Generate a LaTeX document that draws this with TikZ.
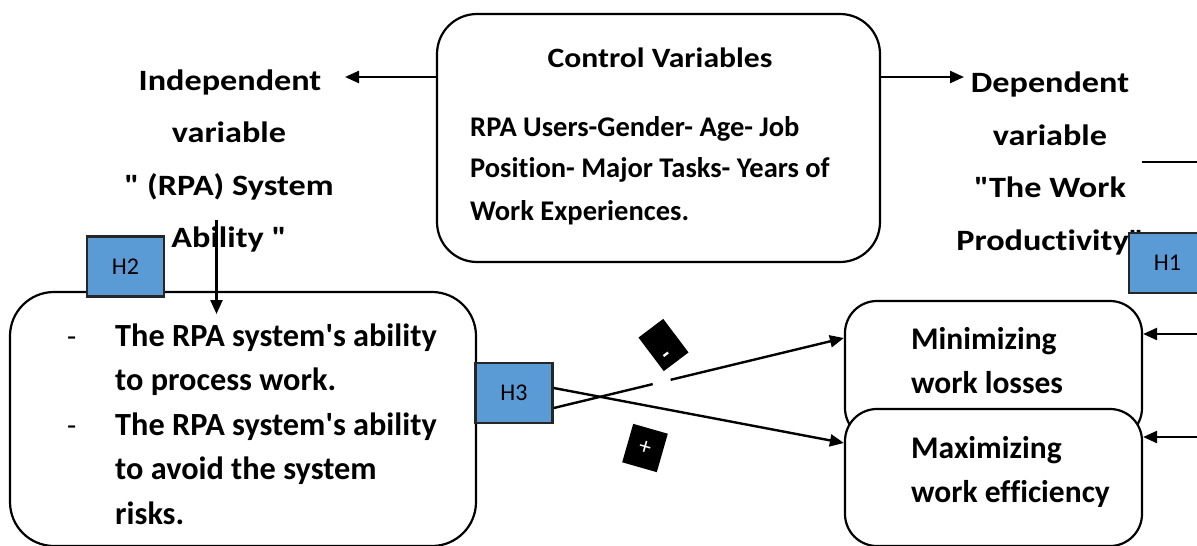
\documentclass[tikz,border=0pt]{standalone}
\usepackage{graphicx}
\usepackage{fontspec}
\setmainfont{Carlito}[Ligatures={TeXOff,CommonOff}]
\usetikzlibrary{arrows.meta,calc}
\definecolor{hblue}{HTML}{5B9BD5}
\newcommand{\strtxt}[2]{\scalebox{#1}[1]{#2}}
\tikzset{
  titletxt/.style={font=\bfseries\fontsize{29.5}{30}\selectfont, anchor=base, inner sep=0pt},
  bodytxt/.style={font=\bfseries\fontsize{32.3}{33}\selectfont, anchor=base west, inner sep=0pt},
  dashtxt/.style={font=\fontsize{30}{30}\selectfont, anchor=base west, inner sep=0pt},
  ctltxt/.style={font=\bfseries\fontsize{28.5}{29}\selectfont, anchor=base west, inner sep=0pt},
  hbox/.style={draw=black!85, line width=2.5pt, fill=hblue, minimum width=77pt, minimum height=60pt, inner sep=0pt, font=\fontsize{24}{24}\selectfont},
  rbox/.style={draw=black, line width=2.2pt, fill=white, inner sep=0pt},
  arr/.style={line width=2.4pt, -{Triangle[length=14pt,width=12pt]}},
  plainline/.style={line width=2.4pt},
  signbox/.style={fill=black, inner sep=0pt, text=white},
}
\begin{document}
\begin{tikzpicture}[x=1pt,y=-1pt]
\clip (0,0) rectangle (1197,546);
\fill[white] (0,0) rectangle (1197,546);

% control box
\node[rbox, rounded corners=40pt, minimum width=443pt, minimum height=248pt] (ctrlbox) at (658.5,138) {};
\node[font=\bfseries\fontsize{28}{28}\selectfont, anchor=base, inner sep=0pt] (ctrlhead) at (660,67) {\strtxt{1.13}{Control Variables}};
\node[ctltxt] (ctl1) at (470,136) {RPA Users-Gender- Age- Job};
\node[ctltxt] (ctl2) at (470,177) {Position- Major Tasks- Years of};
\node[ctltxt] (ctl3) at (470,220) {Work Experiences.};

\coordinate (la) at (345,77);
\coordinate (ra) at (964,77);
\draw[arr] (ctrlbox.west |- la) -- (la);
\draw[arr] (ctrlbox.east |- ra) -- (ra);

% independent title
\node[titletxt] (ind1) at (230,90) {\strtxt{1.16}{Independent}};
\node[titletxt] (ind2) at (229,142.5) {\strtxt{1.16}{variable}};
\node[titletxt] (ind3) at (229,195) {\strtxt{1.16}{" (RPA) System}};
\node[titletxt] (ind4) at (229,247.5) {\strtxt{1.16}{Ability "}};

% dependent title
\node[titletxt] (dep1) at (1050,92) {\strtxt{1.16}{Dependent}};
\node[titletxt] (dep2) at (1050,145) {\strtxt{1.16}{variable}};
\node[titletxt] (dep3) at (1050,197) {\strtxt{1.16}{"The Work}};
\node[titletxt] (dep4) at (1050,250) {\strtxt{1.16}{Productivity"}};

\coordinate (tl1) at (1142,162);
\coordinate (tl2) at (1197,162);
\draw[line width=1.3pt] (tl1) -- (tl2);

\node[hbox] (h1) at (1167.5,263) {H1};

% left box
\node[rbox, rounded corners=44pt, minimum width=466pt, minimum height=254pt] (leftbox) at (243,419) {};
\node[hbox] (h2) at (125.5,266.5) {H2};
\coordinate (vtop) at (216.5,220);
\coordinate (vbot) at (216.5,314);
\draw[arr] (vtop) -- (vbot);

\node[dashtxt] (d1) at (67,346) {-};
\node[bodytxt] (b1) at (115,346) {The RPA system's ability};
\node[bodytxt] (b2) at (115,390.5) {to process work.};
\node[dashtxt] (d2) at (67,435) {-};
\node[bodytxt] (b3) at (115,435) {The RPA system's ability};
\node[bodytxt] (b4) at (115,479.5) {to avoid the system};
\node[bodytxt] (b5) at (115,524) {risks.};

% right boxes
\node[rbox, rounded corners=32pt, minimum width=297pt, minimum height=139pt] (minbox) at (993.5,370.5) {};
\node[rbox, rounded corners=32pt, minimum width=297pt, minimum height=137pt] (maxbox) at (993.5,477.5) {};
\node[bodytxt, font=\bfseries\fontsize{31.5}{32}\selectfont] (m1) at (911,349.5) {Minimizing};
\node[bodytxt, font=\bfseries\fontsize{31.5}{32}\selectfont] (m2) at (911,393.5) {work losses};
\node[bodytxt, font=\bfseries\fontsize{31.5}{32}\selectfont] (m3) at (911,458) {Maximizing};
\node[bodytxt, font=\bfseries\fontsize{31.5}{32}\selectfont] (m4) at (911,502.5) {work efficiency};

\coordinate (r1) at (1197,334);
\coordinate (r2) at (1197,437);
\draw[arr] (r1) -- (minbox.east |- r1);
\draw[arr] (r2) -- (maxbox.east |- r2);

% H3 and crossing arrows
\node[hbox] (h3) at (514,393) {H3};
\coordinate (s1) at ($(h3.east)+(0,15)$);
\coordinate (s2) at ($(h3.east)+(0,-5)$);
\coordinate (e1) at (minbox.west |- 0,338);
\coordinate (e2) at (maxbox.west |- 0,443);
\draw[plainline] (s1) -- ($(s1)!0.341!(e1)$);
\draw[arr] ($(s1)!0.403!(e1)$) -- (e1);
\draw[arr] (s2) -- (e2);

% sign boxes
\node[signbox, rotate=37, minimum width=31pt, minimum height=42pt] (minus) at (663.5,345) {};
\node[text=white, rotate=37, inner sep=0pt, font=\bfseries\fontsize{24}{24}\selectfont] (minussym) at (668,357) {-};
\node[signbox, rotate=-16, minimum width=36pt, minimum height=40pt, font=\fontsize{24}{24}\selectfont] (plus) at (645,448) {+};
\end{tikzpicture}
\end{document}
